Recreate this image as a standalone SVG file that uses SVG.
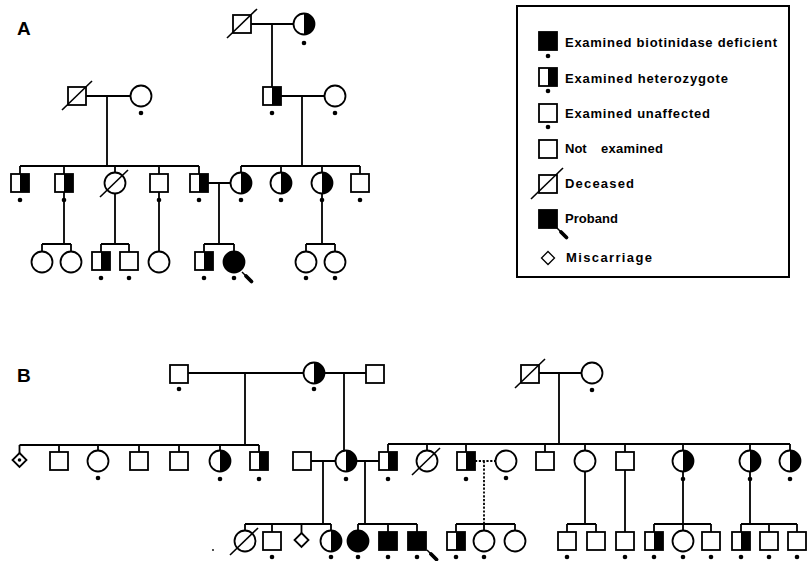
<svg xmlns="http://www.w3.org/2000/svg" xmlns:xlink="http://www.w3.org/1999/xlink" width="807" height="561" viewBox="0 0 807 561">
<style>
.s{fill:#fff;stroke:#000;stroke-width:1.8}
.f{fill:#000;stroke:#000;stroke-width:1.8}
.k{fill:#000}
.c{fill:none;stroke:#000;stroke-width:1.8}
.d{fill:none;stroke:#000;stroke-width:1.8;stroke-dasharray:2.2 1.6}
.x{stroke:#000;stroke-width:1.6}
.lbl{font-family:"Liberation Sans",Arial,sans-serif;font-weight:bold;font-size:19px}
.lg{font-family:"Liberation Sans",Arial,sans-serif;font-weight:bold;font-size:13px}
</style>
<defs>
<g id="sqU"><rect class="s" x="-9" y="-9" width="18" height="18"/></g>
<g id="sqH"><rect class="s" x="-9" y="-9" width="18" height="18"/><rect class="k" x="0" y="-9" width="9" height="18"/></g>
<g id="sqF"><rect class="f" x="-9" y="-9" width="18" height="18"/></g>
<g id="ciU"><circle class="s" r="10.5"/></g>
<g id="ciH"><circle class="s" r="10.5"/><path class="k" d="M0,-10.5 A10.5,10.5 0 0 1 0,10.5 Z"/></g>
<g id="ciF"><circle class="f" r="10.5"/></g>
<g id="dot"><circle class="k" r="2.3"/></g>
<g id="decS"><line class="x" x1="-15" y1="14" x2="15" y2="-15"/></g>
<g id="decC"><line class="x" x1="-15" y1="14" x2="13" y2="-13"/></g>
<g id="dia"><path class="s" d="M0,-7 L7,0 L0,7 L-7,0 Z"/></g>
<g id="arr"><line stroke="#000" stroke-width="1.5" x1="0" y1="0" x2="4" y2="4"/><line stroke="#000" stroke-width="3.8" stroke-linecap="round" x1="4" y1="4" x2="9.5" y2="9.5"/></g>
</defs>

<text class="lbl" x="17" y="35">A</text>
<text class="lbl" x="17" y="382">B</text>

<g id="connectors">
<!-- Panel A -->
<path class="c" d="M251,24 H293.5 M272,24 V87 M86,96 H130.5 M281,96 H324.5 M107,96 V166 M302,96 V166"/>
<path class="c" d="M20,166 H199 M20,166 V174 M64,166 V174 M115,166 V172.5 M159,166 V174 M199,166 V174"/>
<path class="c" d="M241,166 H360 M241,166 V172.5 M281,166 V172.5 M322,166 V172.5 M360,166 V174"/>
<path class="c" d="M64,192 V244 M42,244 H71 M42,244 V251.5 M71,244 V251.5"/>
<path class="c" d="M115,193.5 V244 M101,244 H129 M101,244 V252 M129,244 V252"/>
<path class="c" d="M159,192 V251.5"/>
<path class="c" d="M208,183 H230.5 M219,183 V244 M204,244 H234 M204,244 V252 M234,244 V251"/>
<path class="c" d="M322,193.5 V244 M306,244 H335 M306,244 V251.5 M335,244 V251.5"/>
<!-- Panel B -->
<path class="c" d="M188,373 H303.5 M324.5,373 H366 M245,373 V445 M344,373 V450.5"/>
<path class="c" d="M19.5,445 H259 M19.5,445 V453 M59,445 V452 M98,445 V450.5 M139,445 V452 M179,445 V452 M220,445 V450.5 M259,445 V452"/>
<path class="c" d="M539,373 H581.5 M559,373 V444"/>
<path class="c" d="M388,444 H790 M388,444 V452 M427,444 V450.5 M466,444 V452 M545,444 V452 M585,444 V450.5 M625,444 V452 M683,444 V450.5 M750,444 V450.5 M790,444 V450.5"/>
<path class="c" d="M311,461 H335.5 M356.5,461 H379 M323,461 V524 M365,461 V524"/>
<path class="c" d="M245,524 H331 M245,524 V530.5 M272,524 V532 M301.5,524 V533 M331,524 V530.5"/>
<path class="c" d="M358,524 H417 M358,524 V530.5 M388,524 V532 M417,524 V532"/>
<path class="d" d="M475,461 H495.5 M484,461 V524"/>
<path class="c" d="M456,524 H515 M456,524 V532 M484,524 V530.5 M515,524 V530.5"/>
<path class="c" d="M585,471.5 V524 M567,524 H596 M567,524 V532 M596,524 V532"/>
<path class="c" d="M625,470 V532"/>
<path class="c" d="M683,471.5 V524 M654,524 H711 M654,524 V532 M683,524 V530.5 M711,524 V532"/>
<path class="c" d="M750,471.5 V524 M741,524 H797 M741,524 V532 M769,524 V532 M797,524 V532"/>
</g>

<!-- Panel A nodes -->
<g id="A-I-1"><use xlink:href="#sqU" x="242" y="24"/><use xlink:href="#decS" x="242" y="24"/></g>
<g id="A-I-2"><use xlink:href="#ciH" x="304" y="24"/><use xlink:href="#dot" x="304" y="43"/></g>
<g id="A-II-1"><use xlink:href="#sqU" x="77" y="96"/><use xlink:href="#decS" x="77" y="96"/></g>
<g id="A-II-2"><use xlink:href="#ciU" x="141" y="96"/><use xlink:href="#dot" x="141" y="113"/></g>
<g id="A-II-3"><use xlink:href="#sqH" x="272" y="96"/><use xlink:href="#dot" x="272" y="113"/></g>
<g id="A-II-4"><use xlink:href="#ciU" x="335" y="96"/><use xlink:href="#dot" x="335" y="113"/></g>
<g id="A-III-1"><use xlink:href="#sqH" x="20" y="183"/><use xlink:href="#dot" x="20" y="200"/></g>
<g id="A-III-2"><use xlink:href="#sqH" x="64" y="183"/><use xlink:href="#dot" x="64" y="200"/></g>
<g id="A-III-3"><use xlink:href="#ciU" x="115" y="183"/><use xlink:href="#decC" x="115" y="183"/></g>
<g id="A-III-4"><use xlink:href="#sqU" x="159" y="183"/><use xlink:href="#dot" x="159" y="200"/></g>
<g id="A-III-5"><use xlink:href="#sqH" x="199" y="183"/><use xlink:href="#dot" x="199" y="200"/></g>
<g id="A-III-6"><use xlink:href="#ciH" x="241" y="183"/><use xlink:href="#dot" x="241" y="200"/></g>
<g id="A-III-7"><use xlink:href="#ciH" x="281" y="183"/><use xlink:href="#dot" x="281" y="200"/></g>
<g id="A-III-8"><use xlink:href="#ciH" x="322" y="183"/><use xlink:href="#dot" x="322" y="200"/></g>
<g id="A-III-9"><use xlink:href="#sqU" x="360" y="183"/><use xlink:href="#dot" x="360" y="200"/></g>
<g id="A-IV-1"><use xlink:href="#ciU" x="42" y="262"/></g>
<g id="A-IV-2"><use xlink:href="#ciU" x="71" y="262"/></g>
<g id="A-IV-3"><use xlink:href="#sqH" x="101" y="261"/><use xlink:href="#dot" x="101" y="278"/></g>
<g id="A-IV-4"><use xlink:href="#sqU" x="129" y="261"/><use xlink:href="#dot" x="129" y="278"/></g>
<g id="A-IV-5"><use xlink:href="#ciU" x="159" y="262"/></g>
<g id="A-IV-6"><use xlink:href="#sqH" x="204" y="261"/><use xlink:href="#dot" x="204" y="278"/></g>
<g id="A-IV-7"><use xlink:href="#ciF" x="234" y="262"/><use xlink:href="#dot" x="234" y="278"/><use xlink:href="#arr" x="242" y="272"/></g>
<g id="A-IV-8"><use xlink:href="#ciU" x="306" y="262"/><use xlink:href="#dot" x="306" y="278"/></g>
<g id="A-IV-9"><use xlink:href="#ciU" x="335" y="262"/><use xlink:href="#dot" x="335" y="278"/></g>

<!-- Legend -->
<g id="legend">
<rect x="517" y="6" width="272" height="271" fill="none" stroke="#000" stroke-width="2"/>
<use xlink:href="#sqF" x="548" y="41"/><use xlink:href="#dot" x="548" y="56"/>
<text class="lg" x="565" y="47" textLength="212" lengthAdjust="spacing">Examined biotinidase deficient</text>
<use xlink:href="#sqH" x="548" y="77"/><use xlink:href="#dot" x="548" y="91"/>
<text class="lg" x="565" y="83" textLength="163" lengthAdjust="spacing">Examined heterozygote</text>
<use xlink:href="#sqU" x="548" y="113"/><use xlink:href="#dot" x="548" y="127"/>
<text class="lg" x="565" y="118" textLength="145" lengthAdjust="spacing">Examined unaffected</text>
<use xlink:href="#sqU" x="548" y="149"/>
<text class="lg" y="153"><tspan x="565">Not</tspan><tspan x="601" textLength="62" lengthAdjust="spacing">examined</tspan></text>
<use xlink:href="#sqU" x="548" y="184"/><line class="x" x1="531" y1="199" x2="563" y2="168"/>
<text class="lg" x="565" y="188" textLength="69" lengthAdjust="spacing">Deceased</text>
<use xlink:href="#sqF" x="548" y="219"/><use xlink:href="#arr" x="557" y="228"/>
<text class="lg" x="565" y="223" textLength="53" lengthAdjust="spacing">Proband</text>
<path d="M548,251.5 L554.5,258 L548,264.5 L541.5,258 Z" fill="#fff" stroke="#000" stroke-width="1.3"/>
<text class="lg" x="566" y="262" textLength="86" lengthAdjust="spacing">Miscarriage</text>
</g>

<!-- Panel B nodes -->
<g id="B-I-1"><use xlink:href="#sqU" x="179" y="374"/><use xlink:href="#dot" x="179" y="389"/></g>
<g id="B-I-2"><use xlink:href="#ciH" x="314" y="373"/><use xlink:href="#dot" x="314" y="389"/></g>
<g id="B-I-3"><use xlink:href="#sqU" x="375" y="374"/></g>
<g id="B-I-4"><use xlink:href="#sqU" x="530" y="374"/><use xlink:href="#decS" x="530" y="374"/></g>
<g id="B-I-5"><use xlink:href="#ciU" x="592" y="373"/><use xlink:href="#dot" x="592" y="390"/></g>

<g id="B-II-1"><use xlink:href="#dia" x="19.5" y="460"/><circle class="k" cx="19.5" cy="460" r="1.8"/></g>
<g id="B-II-2"><use xlink:href="#sqU" x="59" y="461"/></g>
<g id="B-II-3"><use xlink:href="#ciU" x="98" y="461"/><use xlink:href="#dot" x="98" y="478"/></g>
<g id="B-II-4"><use xlink:href="#sqU" x="139" y="461"/></g>
<g id="B-II-5"><use xlink:href="#sqU" x="179" y="461"/></g>
<g id="B-II-6"><use xlink:href="#ciH" x="220" y="461"/><use xlink:href="#dot" x="220" y="479"/></g>
<g id="B-II-7"><use xlink:href="#sqH" x="259" y="461"/><use xlink:href="#dot" x="259" y="479"/></g>
<g id="B-II-8"><use xlink:href="#sqU" x="302" y="461"/></g>
<g id="B-II-9"><use xlink:href="#ciH" x="346" y="461"/><use xlink:href="#dot" x="346" y="479"/></g>
<g id="B-II-10"><use xlink:href="#sqH" x="388" y="461"/><use xlink:href="#dot" x="388" y="479"/></g>
<g id="B-II-11"><use xlink:href="#ciU" x="427" y="461"/><use xlink:href="#decC" x="427" y="461"/></g>
<g id="B-II-12"><use xlink:href="#sqH" x="466" y="461"/><use xlink:href="#dot" x="466" y="479"/></g>
<g id="B-II-13"><use xlink:href="#ciU" x="506" y="461"/><use xlink:href="#dot" x="506" y="478"/></g>
<g id="B-II-14"><use xlink:href="#sqU" x="545" y="461"/></g>
<g id="B-II-15"><use xlink:href="#ciU" x="585" y="461"/></g>
<g id="B-II-16"><use xlink:href="#sqU" x="625" y="461"/></g>
<g id="B-II-17"><use xlink:href="#ciH" x="683" y="461"/><use xlink:href="#dot" x="683" y="479"/></g>
<g id="B-II-18"><use xlink:href="#ciH" x="750" y="461"/><use xlink:href="#dot" x="750" y="479"/></g>
<g id="B-II-19"><use xlink:href="#ciH" x="790" y="461"/><use xlink:href="#dot" x="790" y="479"/></g>

<g id="B-III-1"><use xlink:href="#ciU" x="245" y="541"/><use xlink:href="#decC" x="245" y="541"/></g>
<g id="B-III-2"><use xlink:href="#sqU" x="272" y="541"/><use xlink:href="#dot" x="272" y="557"/></g>
<g id="B-III-3"><use xlink:href="#dia" x="301.5" y="540"/></g>
<g id="B-III-4"><use xlink:href="#ciH" x="331" y="541"/><use xlink:href="#dot" x="331" y="557"/></g>
<g id="B-III-5"><use xlink:href="#ciF" x="358" y="541"/><use xlink:href="#dot" x="358" y="557"/></g>
<g id="B-III-6"><use xlink:href="#sqF" x="388" y="541"/><use xlink:href="#dot" x="388" y="557"/></g>
<g id="B-III-7"><use xlink:href="#sqF" x="417" y="541"/><use xlink:href="#dot" x="417" y="557"/><use xlink:href="#arr" x="427" y="550"/></g>
<g id="B-III-8"><use xlink:href="#sqH" x="456" y="541"/><use xlink:href="#dot" x="456" y="557"/></g>
<g id="B-III-9"><use xlink:href="#ciU" x="484" y="541"/><use xlink:href="#dot" x="484" y="557"/></g>
<g id="B-III-10"><use xlink:href="#ciU" x="515" y="541"/></g>
<g id="B-III-11"><use xlink:href="#sqU" x="567" y="541"/><use xlink:href="#dot" x="567" y="557"/></g>
<g id="B-III-12"><use xlink:href="#sqU" x="596" y="541"/></g>
<g id="B-III-13"><use xlink:href="#sqU" x="625" y="541"/><use xlink:href="#dot" x="625" y="557"/></g>
<g id="B-III-14"><use xlink:href="#sqH" x="654" y="541"/><use xlink:href="#dot" x="654" y="557"/></g>
<g id="B-III-15"><use xlink:href="#ciU" x="683" y="541"/><use xlink:href="#dot" x="683" y="557"/></g>
<g id="B-III-16"><use xlink:href="#sqU" x="711" y="541"/><use xlink:href="#dot" x="711" y="557"/></g>
<g id="B-III-17"><use xlink:href="#sqH" x="741" y="541"/><use xlink:href="#dot" x="741" y="557"/></g>
<g id="B-III-18"><use xlink:href="#sqU" x="769" y="541"/><use xlink:href="#dot" x="769" y="557"/></g>
<g id="B-III-19"><use xlink:href="#sqU" x="797" y="541"/><use xlink:href="#dot" x="797" y="557"/></g>
<circle class="k" cx="213" cy="550" r="0.9"/>
</svg>
